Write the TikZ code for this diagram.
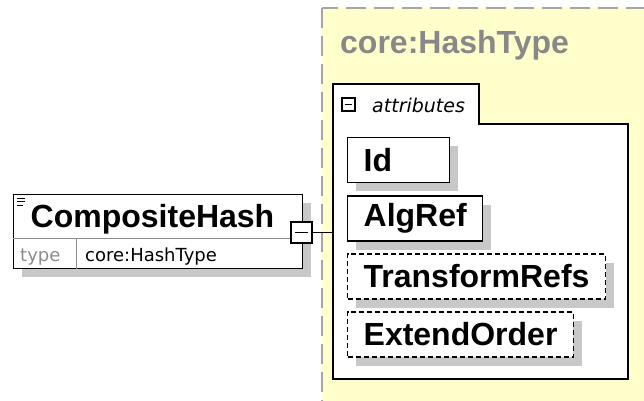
\documentclass[tikz,border=0pt]{standalone}
\usepackage{fontspec}
\setmainfont{Liberation Sans}
\newfontfamily\smallfont{DejaVu Sans}
\usetikzlibrary{positioning,shadows}

\definecolor{typebg}{RGB}{255,255,204}
\definecolor{shadowgray}{RGB}{200,200,200}
\definecolor{titlegray}{RGB}{136,136,136}
\definecolor{bordergray}{RGB}{165,165,165}
\definecolor{linegray}{RGB}{140,140,140}

\begin{document}
\begin{tikzpicture}[x=1pt, y=-1pt,
    boxshadow/.style={drop shadow={shadow xshift=8.5pt, shadow yshift=-8.5pt, fill=shadowgray, opacity=1}},
    elem/.style={draw, line width=1.3pt, fill=white, anchor=west, boxshadow,
        minimum height=45pt, inner xsep=16pt, inner ysep=0pt,
        font=\fontsize{32}{36}\selectfont\bfseries},
    optional/.style={elem, dash pattern=on 5pt off 3pt},
    collapse/.style={draw, fill=white, line width=1.2pt, inner sep=0pt}]

    % Page size and white background
    \useasboundingbox (0,0) rectangle (644,400);
    \clip (0,0) rectangle (644,400);
    \fill[white] (0,0) rectangle (644,400);

    % Draw the complex type area
    \draw[fill=typebg, draw=bordergray, line width=2pt, dash pattern=on 20pt off 8pt]
        (322,8) rectangle (700,450);
    \node[anchor=base west, inner sep=0pt, text=titlegray,
        font=\fontsize{32}{36}\selectfont\bfseries] (typename) at (340,53) {core:HashType};

    % Draw the attributes group with its tab
    \draw[fill=white, line width=1.2pt]
        (333,84) -- (479,84) -- (479,124) -- (628,124) -- (628,379) -- (333,379) -- cycle;
    \coordinate (attrs) at (333,232.5);
    \node[collapse, minimum size=13pt] (attrminus) at (348.5,104.5) {};
    \draw[line width=1.2pt] ([xshift=-3.5pt]attrminus.center) -- ([xshift=3.5pt]attrminus.center);
    \node[anchor=base west, inner sep=0pt,
        font=\smallfont\fontsize{19}{22}\selectfont\itshape] (attrlabel) at (372,112) {attributes};

    % Draw the attributes
    \node[elem, text width=70pt, align=left] (id) at (347,160) {Id};
    \node[elem] (algref) at (347,218.5) {AlgRef};
    \node[optional] (transformrefs) at (347,276.5) {TransformRefs};
    \node[optional] (extendorder) at (347,334.5) {ExtendOrder};

    % Draw the element box
    \node[draw, fill=white, line width=1.3pt, boxshadow, anchor=north west,
        minimum width=289pt, minimum height=74pt, inner sep=0pt] (comphash) at (13,194) {};
    \draw[linegray, line width=1pt] ([yshift=-44pt]comphash.north west) -- ([yshift=-44pt]comphash.north east);
    \draw[linegray, line width=1pt] ([xshift=63pt,yshift=-44pt]comphash.north west) -- ([xshift=63pt]comphash.south west);

    % Icon in the top left corner
    \draw[line width=1pt] (17,198) -- (25,198);
    \draw[line width=1pt] (17,201.5) -- (25,201.5);
    \draw[line width=1pt] (17,205) -- (23,205);

    % Labels of the element
    \node[anchor=base west, inner sep=0pt,
        font=\fontsize{32}{36}\selectfont\bfseries] (compname) at (30.5,227) {CompositeHash};
    \node[anchor=base west, inner sep=0pt, text=linegray,
        font=\smallfont\fontsize{18}{20}\selectfont] (typekey) at (20,261.5) {type};
    \node[anchor=base west, inner sep=0pt,
        font=\smallfont\fontsize{18}{20}\selectfont] (typeval) at (85,261.5) {core:HashType};

    % Draw the collapse button and the connector
    \node[collapse, minimum size=21pt] (compminus) at (301.5,232.5) {};
    \draw[line width=1.3pt] ([xshift=-6.5pt]compminus.center) -- ([xshift=6.5pt]compminus.center);
    \draw[line width=1pt] (compminus.east) -- (attrs);
\end{tikzpicture}
\end{document}
